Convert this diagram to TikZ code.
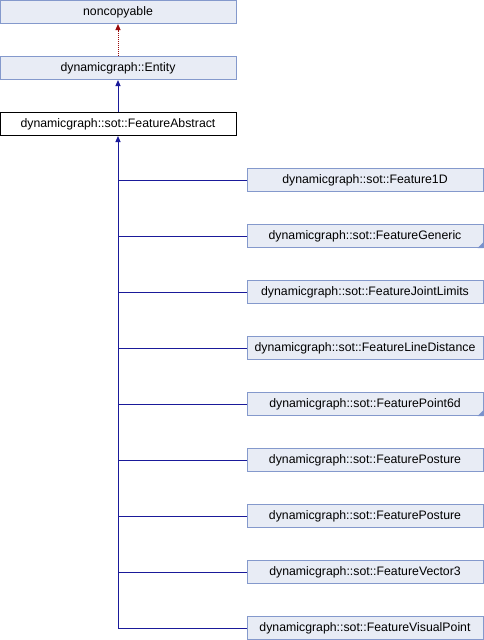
\documentclass[tikz,border=0pt]{standalone}
\usepackage{fontspec}
\setmainfont{Liberation Sans}
\usetikzlibrary{positioning}
\usetikzlibrary{arrows.meta}
\definecolor{boxfill}{HTML}{E8ECF5}
\definecolor{boxline}{HTML}{8499CC}
\definecolor{publine}{HTML}{1A1A9A}
\definecolor{privline}{HTML}{9A0A0A}
\definecolor{cornerblue}{HTML}{7A92CC}
\begin{document}
\begin{tikzpicture}[x=1pt, y=-1pt,
    every node/.style={font=\fontsize{12.3}{14}\selectfont, inner sep=0pt, minimum width=236pt, minimum height=23pt},
    classbox/.style={draw=boxline, fill=boxfill, line width=1pt},
    thisbox/.style={draw=black, fill=white, line width=1pt},
    publine/.style={draw=publine, line width=1pt, -{Triangle[width=5pt,length=6pt]}},
    privline/.style={draw=privline, line width=1pt, dash pattern=on 1pt off 1pt, -{Triangle[width=5pt,length=6pt, fill=privline]}},
    branch/.style={draw=publine, line width=1pt}]
            \useasboundingbox (0,0) rectangle (484,640);
            % Base classes
            \node[classbox] (noncopyable) at (118,12) {noncopyable};
            \node[classbox] (entity) at (118,68) {dynamicgraph::Entity};
            \node[thisbox] (abstract) at (118,124) {dynamicgraph::sot::FeatureAbstract};
            
            % Derived classes
            \node[classbox] (f1d) at (365,180) {dynamicgraph::sot::Feature1D};
            \node[classbox] (generic) at (365,236) {dynamicgraph::sot::FeatureGeneric};
            \node[classbox] (jointlimits) at (365,292) {dynamicgraph::sot::FeatureJointLimits};
            \node[classbox] (linedist) at (365,348) {dynamicgraph::sot::FeatureLineDistance};
            \node[classbox] (point6d) at (365,404) {dynamicgraph::sot::FeaturePoint6d};
            \node[classbox] (posture) at (365,460) {dynamicgraph::sot::FeaturePosture};
            \node[classbox] (posture2) at (365,516) {dynamicgraph::sot::FeaturePosture};
            \node[classbox] (vector3) at (365,572) {dynamicgraph::sot::FeatureVector3};
            \node[classbox] (visual) at (365,628) {dynamicgraph::sot::FeatureVisualPoint};
            
            % Corner marks
            \fill[cornerblue] ([xshift=-6pt]generic.south east) -- (generic.south east) -- ([yshift=6pt]generic.south east) -- cycle;
            \fill[cornerblue] ([xshift=-6pt]point6d.south east) -- (point6d.south east) -- ([yshift=6pt]point6d.south east) -- cycle;
            
            \draw[privline] (entity) -- (noncopyable);
            \draw[publine] (abstract) -- (entity);
            \draw[publine] (visual.west) -| (abstract.south);
            \draw[branch] (abstract.south |- f1d.west) -- (f1d.west);
            \draw[branch] (abstract.south |- generic.west) -- (generic.west);
            \draw[branch] (abstract.south |- jointlimits.west) -- (jointlimits.west);
            \draw[branch] (abstract.south |- linedist.west) -- (linedist.west);
            \draw[branch] (abstract.south |- point6d.west) -- (point6d.west);
            \draw[branch] (abstract.south |- posture.west) -- (posture.west);
            \draw[branch] (abstract.south |- posture2.west) -- (posture2.west);
            \draw[branch] (abstract.south |- vector3.west) -- (vector3.west);
        \end{tikzpicture}
\end{document}
